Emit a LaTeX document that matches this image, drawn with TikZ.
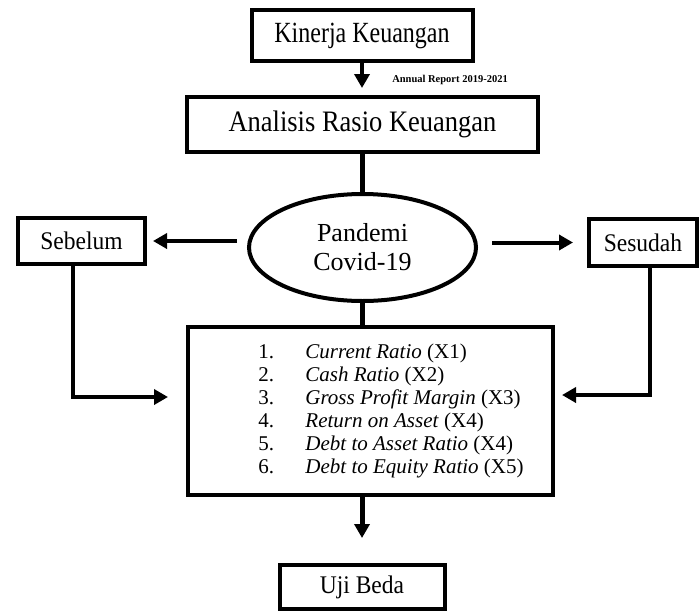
\documentclass[tikz,border=0pt]{standalone}
\usepackage{fontspec}
\usepackage{graphicx}
\setmainfont{Liberation Serif}
\usetikzlibrary{shapes,arrows.meta,positioning,calc}
\newcommand{\tinggi}[2]{\scalebox{1}[#1]{#2}}

\begin{document}
\begin{tikzpicture}[x=1pt,y=-1pt,
    kotak/.style={draw=black, line width=4pt, rectangle, inner sep=0pt},
    oval/.style={draw=black, line width=4pt, ellipse, inner sep=0pt, align=center},
    garis/.style={line width=4.5pt},
    panah/.style={line width=4pt, -{Triangle[length=14pt,width=15pt]}}]
    \useasboundingbox (0,0) rectangle (700,613);
    \node[kotak, minimum width=221pt, minimum height=51pt, font=\fontsize{24}{28}\selectfont] (kinerja) at (362,35.5) {\tinggi{1.22}{Kinerja Keuangan}};
    \node[font=\bfseries\fontsize{10.5}{12}\selectfont] (tahun) at (450,80) {Annual Report 2019-2021};
    \node[kotak, minimum width=351pt, minimum height=55pt, font=\fontsize{26.5}{30}\selectfont] (analisis) at (362.5,124.5) {\tinggi{1.12}{Analisis Rasio Keuangan}};
    \node[oval, minimum width=227pt, minimum height=107pt, font=\fontsize{26}{29}\selectfont] (pandemi) at (362.5,247.5) {Pandemi\\Covid-19};
    \node[kotak, minimum width=127pt, minimum height=46pt, font=\fontsize{23.5}{27}\selectfont] (sebelum) at (81.5,241) {\tinggi{1.08}{Sebelum}};
    \node[kotak, minimum width=108pt, minimum height=47pt, font=\fontsize{23.5}{27}\selectfont] (sesudah) at (643,242.5) {\tinggi{1.08}{Sesudah}};
    \node[kotak, minimum width=365pt, minimum height=168pt, font=\fontsize{21}{23}\selectfont] (rasio) at (370.5,411) {\hspace*{41pt}\begin{tabular}{@{}p{47pt}@{}l@{}}
        1. & \textit{Current Ratio} (X1)\\
        2. & \textit{Cash Ratio} (X2)\\
        3. & \textit{Gross Profit Margin} (X3)\\
        4. & \textit{Return on Asset} (X4)\\
        5. & \textit{Debt to Asset Ratio} (X4)\\
        6. & \textit{Debt to Equity Ratio} (X5)
    \end{tabular}};
    \node[kotak, minimum width=165pt, minimum height=44pt, font=\fontsize{23.5}{27}\selectfont] (uji) at (362,587) {\tinggi{1.08}{Uji Beda}};

    \draw[panah, shorten >=7pt] (kinerja.south) -- (kinerja.south |- analisis.north);
    \draw[garis] (analisis) -- (pandemi);
    \draw[garis] (pandemi.south) -- (pandemi.south |- rasio.north);
    \draw[panah, shorten <=10pt, shorten >=6pt] (sebelum.east -| pandemi.west) -- (sebelum.east);
    \draw[panah, shorten <=14pt, shorten >=14pt] (sesudah.west -| pandemi.east) -- (sesudah.west);
    \draw[panah, shorten >=18pt] ([xshift=-8.5pt]sebelum.south) |- ([yshift=14pt]rasio.west);
    \draw[panah, shorten >=7pt] ([xshift=7pt]sesudah.south) |- ([yshift=16pt]rasio.east);
    \draw[panah, line width=5pt, shorten >=25pt] (rasio.south -| uji.north) -- (uji.north);
\end{tikzpicture}
\end{document}
